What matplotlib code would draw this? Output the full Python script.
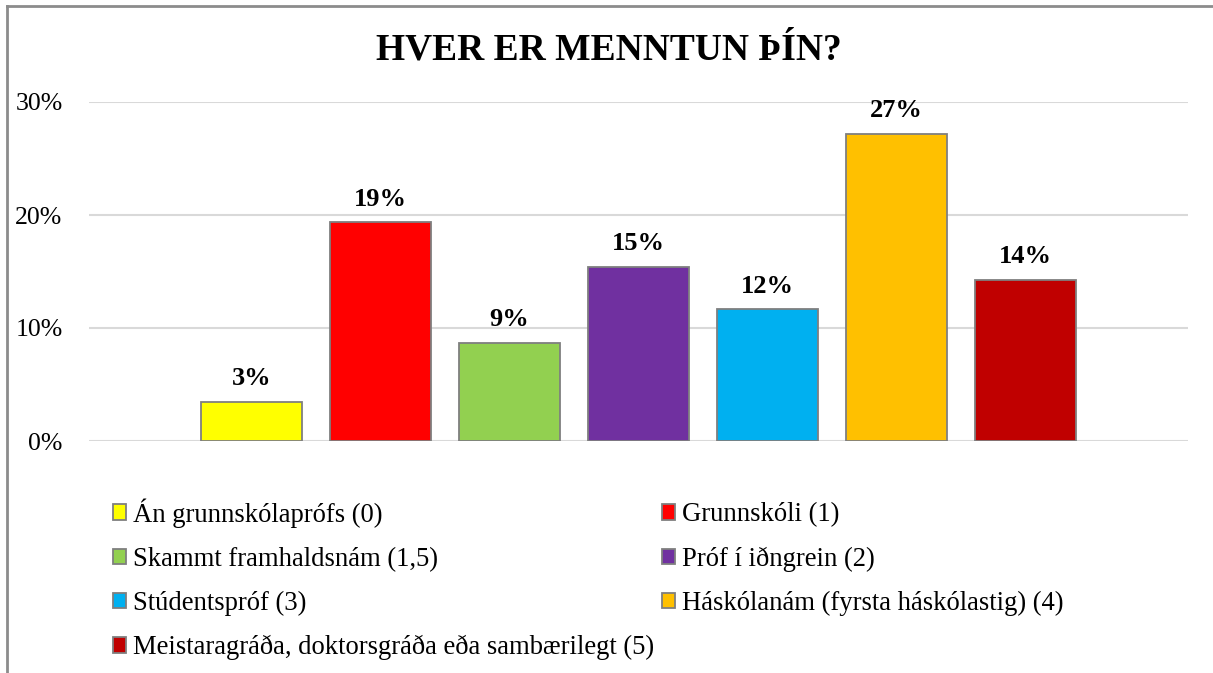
import matplotlib.pyplot as plt
from matplotlib.patches import Patch
from matplotlib.lines import Line2D

categories = ['Án grunnskólaprófs (0)', 'Grunnskóli (1)', 'Skammt framhaldsnám (1,5)',
              'Próf í iðngrein (2)', 'Stúdentspróf (3)', 'Háskólanám (fyrsta háskólastig) (4)',
              'Meistaragráða, doktorsgráða eða sambærilegt (5)']
values = [3.45, 19.35, 8.7, 15.4, 11.65, 27.15, 14.25]
labels = ['3%', '19%', '9%', '15%', '12%', '27%', '14%']
colors = ['#FFFF00', '#FF0000', '#92D050', '#7030A0', '#00B0F0', '#FFC000', '#C00000']
yticks = [0, 10, 20, 30]

plt.rcParams['font.family'] = ['Liberation Serif', 'DejaVu Serif']

fig = plt.figure(figsize=(12.13, 6.73), dpi=100)
ax = fig.add_axes([89/1213, 232/673, 1099/1213, 339/673])

x = list(range(len(values)))
bars = ax.bar(x, values, width=0.79, color=colors, edgecolor='#7f7f7f', linewidth=1.3, zorder=3)
for b, lab in zip(bars, labels):
    ax.annotate(lab, (b.get_x() + b.get_width()/2, b.get_height()), xytext=(0, 8.5),
                textcoords='offset points', ha='center', va='bottom',
                fontsize=19, fontweight='bold')

ax.set_xlim(-1.26, 7.26)
ax.set_ylim(0, 30)
ax.set_yticks(yticks)
ax.set_yticklabels([f'{t}%' for t in yticks], fontsize=18.5)
ax.set_xticks([])
ax.grid(axis='y', color='#d9d9d9', linewidth=1.5, zorder=0)
ax.tick_params(axis='y', length=0, pad=19)
for s in ax.spines.values():
    s.set_visible(False)

fig.text(0.502, 1 - 50/673, 'HVER ER MENNTUN ÞÍN?', ha='center', va='center',
         fontsize=27, fontweight='bold')

# chart border (cropped at right and bottom)
fig.add_artist(Line2D([7/1213, 1], [1 - 6/673] * 2, color='#8c8c8c', linewidth=2))
fig.add_artist(Line2D([7/1213] * 2, [0, 1 - 6/673], color='#8c8c8c', linewidth=2))

handles = [Patch(facecolor=c, edgecolor='#7f7f7f', linewidth=1.3) for c in colors]
order = [0, 2, 4, 6, 1, 3, 5]
fig.legend([handles[i] for i in order], [categories[i] for i in order],
           loc='upper left', bbox_to_anchor=(89/1213, 1 - 474/673), ncol=2,
           frameon=False, fontsize=19.2, handlelength=0.5, handleheight=0.5,
           handletextpad=0.25, columnspacing=0.3, labelspacing=0.72)

fig.savefig('out.png', dpi=100, facecolor='white')
